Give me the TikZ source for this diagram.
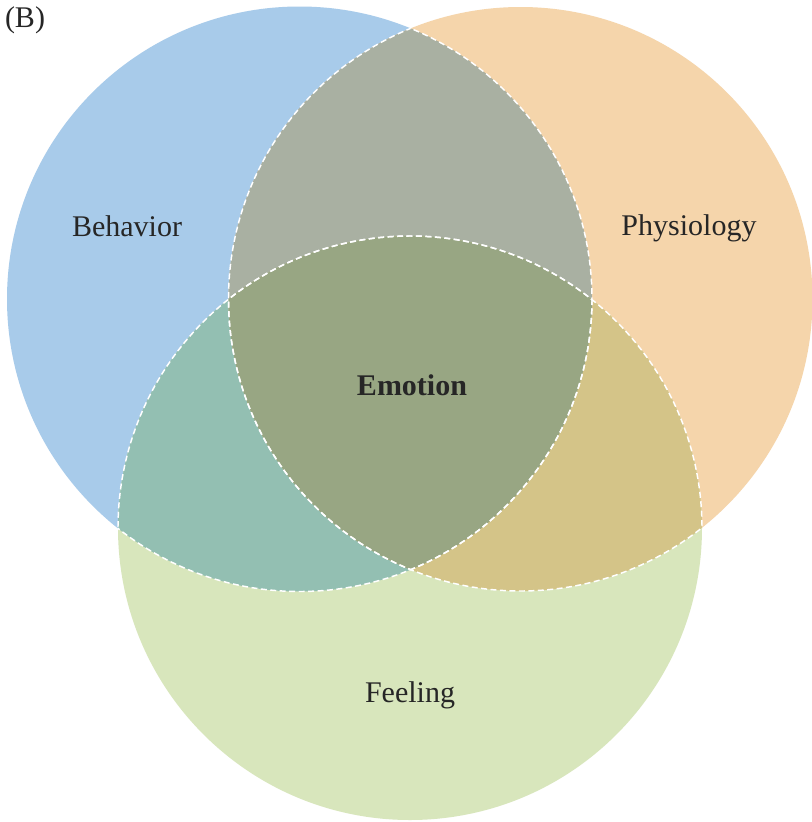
\documentclass[tikz,border=0pt]{standalone}
\usepackage{fontspec}
\setmainfont{Liberation Serif}
\begin{document}
\begin{tikzpicture}[x=0.75pt,y=-0.75pt,
  lbl/.style={text=black!85, font=\fontsize{22.5}{27}\selectfont, inner sep=0pt},
  sep/.style={draw=white, line width=1.1pt, dash pattern=on 4.5pt off 2.6pt}]
\definecolor{cB}{HTML}{A8CBEA}
\definecolor{cP}{HTML}{F5D5AB}
\definecolor{cF}{HTML}{D8E6BC}
\definecolor{cBP}{HTML}{A9B0A2}
\definecolor{cBF}{HTML}{93BFB2}
\definecolor{cPF}{HTML}{D4C488}
\definecolor{cBPF}{HTML}{98A683}
\useasboundingbox (0,0) rectangle (812,822);
\fill[white] (0,0) rectangle (812,822);
\def\cirB{(299.5,299) circle[radius=292.5]}
\def\cirP{(520.5,299) circle[radius=292]}
\def\cirF{(410,528) circle[radius=292]}
% base circles
\fill[cB] \cirB;
\fill[cP] \cirP;
\fill[cF] \cirF;
% pairwise overlaps
\begin{scope}\clip \cirB; \fill[cBP] \cirP; \end{scope}
\begin{scope}\clip \cirB; \fill[cBF] \cirF; \end{scope}
\begin{scope}\clip \cirP; \fill[cPF] \cirF; \end{scope}
\begin{scope}\clip \cirB; \clip \cirP; \fill[cBPF] \cirF; \end{scope}
% dashed inner boundaries
\begin{scope}\clip \cirP; \draw[sep] \cirB; \draw[sep] \cirF; \end{scope}
\begin{scope}\clip \cirB; \draw[sep] \cirP; \draw[sep] \cirF; \end{scope}
\begin{scope}\clip \cirF; \draw[sep] \cirB; \draw[sep] \cirP; \end{scope}
% labels
\node[lbl] (tag) at (25,20) {(B)};
\node[lbl] (beh) at (127,226) {Behavior};
\node[lbl] (phy) at (689,228) {Physiology};
\node[lbl, font=\fontsize{22.5}{27}\selectfont\bfseries] (emo) at (412,385) {Emotion};
\node[lbl] (fee) at (410,695) {Feeling};
\end{tikzpicture}
\end{document}
